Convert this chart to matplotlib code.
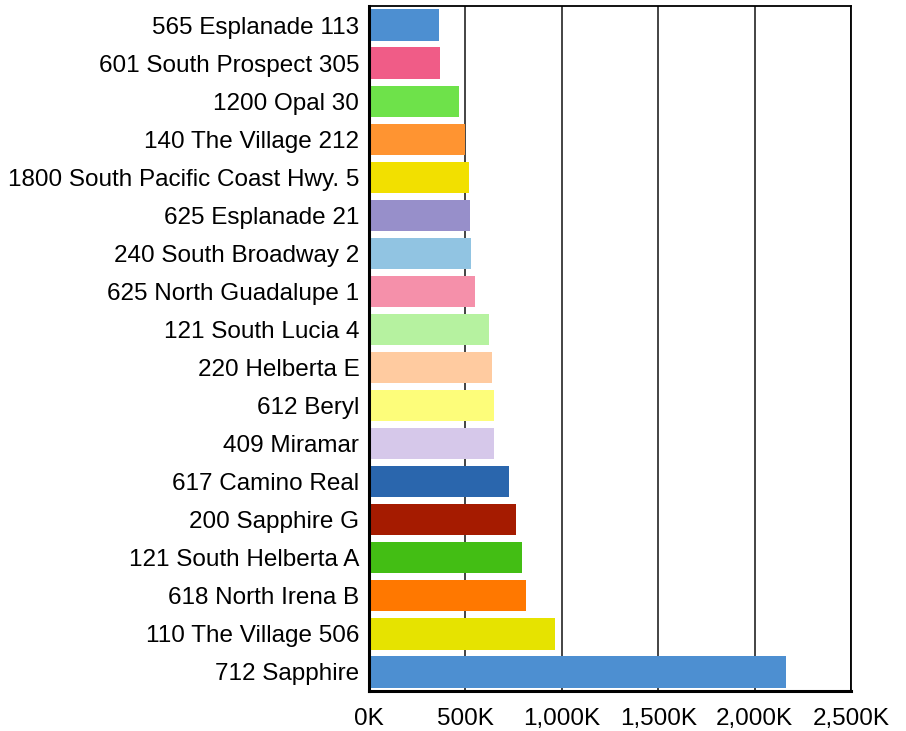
import matplotlib
matplotlib.use("Agg")
import matplotlib.pyplot as plt
from matplotlib.ticker import FuncFormatter

labels = ["565 Esplanade 113", "601 South Prospect 305", "1200 Opal 30", "140 The Village 212",
          "1800 South Pacific Coast Hwy. 5", "625 Esplanade 21", "240 South Broadway 2",
          "625 North Guadalupe 1", "121 South Lucia 4", "220 Helberta E", "612 Beryl",
          "409 Miramar", "617 Camino Real", "200 Sapphire G", "121 South Helberta A",
          "618 North Irena B", "110 The Village 506", "712 Sapphire"]
values_k = [363, 368, 467, 498, 519, 524, 529, 550, 622, 638, 648, 648, 726, 762, 794, 814, 965, 2163]
colors = ["#4D8FD1", "#F05C87", "#6EE24A", "#FF9431", "#F2E000", "#978FCA", "#91C4E2", "#F590AA",
          "#B6F2A0", "#FFCBA0", "#FDFD7A", "#D6C8EA", "#2A66AD", "#A51B00", "#43BE14", "#FF7800",
          "#E6E300", "#4D8FD1"]
xticks_k = [0, 500, 1000, 1500, 2000, 2500]

plt.rcParams['font.family'] = ['Liberation Sans', 'DejaVu Sans']
fig = plt.figure(figsize=(9.06, 7.31), dpi=100)
ax = fig.add_axes([369/906, 1-691/731, (851-369)/906, (691-6)/731])

y = list(range(len(labels)))
ax.barh(y, values_k, height=0.82, color=colors, zorder=3)
ax.set_ylim(len(labels)-0.5, -0.5)
ax.set_xlim(0, 2500)
ax.set_yticks(y)
ax.set_yticklabels(labels, fontsize=17.5)
ax.set_xticks(xticks_k)
ax.xaxis.set_major_formatter(FuncFormatter(lambda v, p: f"{int(v):,}K"))
ax.tick_params(axis='x', labelsize=17.5, length=0, pad=12)
ax.tick_params(axis='y', length=0, pad=7)
ax.grid(axis='x', color='#111111', linewidth=1.1, zorder=1)
for side in ['top', 'right']:
    ax.spines[side].set_linewidth(1.3)
for side in ['left', 'bottom']:
    ax.spines[side].set_linewidth(2.2)
for s in ax.spines.values():
    s.set_color('black')
    s.set_zorder(4)

fig.savefig("out.png", dpi=100)
